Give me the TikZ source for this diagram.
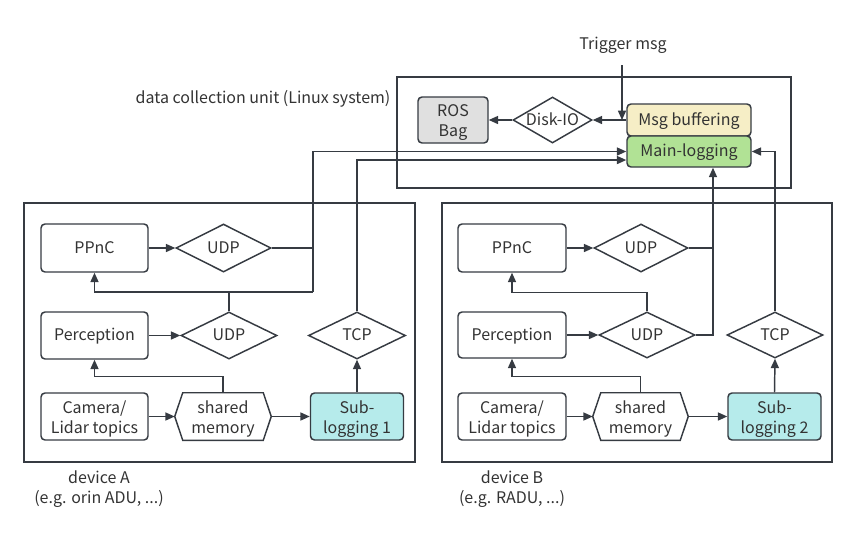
\documentclass[tikz,border=0pt]{standalone}
\usepackage{fontspec}
\setmainfont{Noto Sans CJK SC}
\usetikzlibrary{shapes.geometric,arrows.meta,calc}
\definecolor{ink}{HTML}{363B42}
\definecolor{txt}{HTML}{333333}
\definecolor{rosgray}{HTML}{E0E0E0}
\definecolor{bufyellow}{HTML}{F6EEC6}
\definecolor{maingreen}{HTML}{B1E295}
\definecolor{subcyan}{HTML}{B6EBEB}
\newcommand\hexpath[1]{\draw[line] (#1.west) -- ([xshift=6pt]#1.north west) -- ([xshift=-6pt]#1.north east) -- (#1.east) -- ([xshift=-6pt]#1.south east) -- ([xshift=6pt]#1.south west) -- cycle;}
\begin{document}
\begin{tikzpicture}[x=0.75pt,y=-0.75pt,
  every node/.style={text=txt,font=\fontsize{12}{15}\selectfont},
  line/.style={draw=ink,line width=1.1pt},
  frame/.style={draw=ink,line width=1.1pt,inner sep=0pt},
  one/.style={text height=8pt,text depth=0pt},
  two/.style={text height=25pt,text depth=0pt},
  rbox/.style={draw=ink,line width=1.1pt,rounded corners=3pt,inner sep=0pt,align=center},
  dia/.style={diamond,draw=ink,line width=1.1pt,inner sep=0pt,aspect=2,one},
  hexa/.style={inner sep=0pt,align=center,two},
  arr/.style={draw=ink,line width=1.1pt,-{Triangle[length=7pt,width=6pt]}},
  lbl/.style={inner sep=0pt,align=center}]
\useasboundingbox (0,0) rectangle (858,533);

% frames
\node[frame,minimum width=295.5pt,minimum height=83.25pt] (dcu) at (594,132.5) {};
\node[frame,minimum width=293.25pt,minimum height=194.25pt] (devA) at (219.5,332.5) {};
\node[frame,minimum width=292.5pt,minimum height=194.25pt] (devB) at (637,332.5) {};

% labels
\node[lbl] (trigLbl) at (623,45) {Trigger msg};
\node[lbl] (dcuLbl) at (263,99) {data collection unit (Linux system)};
\node[lbl] (devALbl) at (99,489) {device A\\(e.g. orin ADU, ...)};
\node[lbl] (devBLbl) at (512,489) {device B\\(e.g. RADU, ...)};

% data collection unit
\node[rbox,two,fill=rosgray,minimum width=52.5pt,minimum height=34.5pt] (ros) at (453,120) {ROS\\Bag};
\node[dia,minimum width=59.25pt,minimum height=34.5pt] (disk) at (552.5,120) {Disk-IO};
\node[rbox,one,fill=bufyellow,minimum width=93pt,minimum height=24pt] (msgbuf) at (689,120) {Msg buffering};
\node[rbox,one,fill=maingreen,minimum width=93pt,minimum height=23.25pt] (mainlog) at (689,151.5) {Main-logging};
\coordinate (trig) at (622,65);

% device A
\node[rbox,one,minimum width=80.25pt,minimum height=36pt] (ppncA) at (94.5,248) {PPnC};
\node[dia,minimum width=71.25pt,minimum height=36pt] (udpA1) at (223.5,248) {UDP};
\node[rbox,one,minimum width=80.25pt,minimum height=35.25pt] (percA) at (94.5,335.5) {Perception};
\node[dia,minimum width=72pt,minimum height=35.25pt] (udpA2) at (229,335.5) {UDP};
\node[dia,minimum width=72.75pt,minimum height=35.25pt] (tcpA) at (357,335.5) {TCP};
\node[rbox,two,minimum width=80.25pt,minimum height=35.25pt] (camA) at (94.5,416.5) {Camera/\\Lidar topics};
\node[hexa,minimum width=72pt,minimum height=35.25pt] (shmA) at (223,416.5) {shared\\memory};
\hexpath{shmA}
\node[rbox,two,fill=subcyan,minimum width=69.75pt,minimum height=35.25pt] (subA) at (357,416.5) {Sub-\\logging 1};
\coordinate (jA) at (313,292);

% device B
\node[rbox,one,minimum width=81pt,minimum height=36pt] (ppncB) at (512,248) {PPnC};
\node[dia,minimum width=70.5pt,minimum height=36pt] (udpB1) at (641,248) {UDP};
\node[rbox,one,minimum width=81pt,minimum height=34.5pt] (percB) at (512,335) {Perception};
\node[dia,minimum width=72pt,minimum height=34.5pt] (udpB2) at (647,335) {UDP};
\node[dia,minimum width=72pt,minimum height=34.5pt] (tcpB) at (775,335) {TCP};
\node[rbox,two,minimum width=81pt,minimum height=35.25pt] (camB) at (512,416.5) {Camera/\\Lidar topics};
\node[hexa,minimum width=71.25pt,minimum height=35.25pt] (shmB) at (640.5,416.5) {shared\\memory};
\hexpath{shmB}
\node[rbox,two,fill=subcyan,minimum width=69.75pt,minimum height=35.25pt] (subB) at (774.5,416.5) {Sub-\\logging 2};
\coordinate (jB) at (713,248);

% connectors: data collection unit
\draw[arr] (trig) -- (trig |- msgbuf.west);
\draw[arr] (msgbuf.west) -- (disk.east);
\draw[arr] (disk.west) -- (ros.east);

% connectors: device A
\draw[arr] (ppncA.east) -- (udpA1.west);
\draw[arr] (percA.east) -- (udpA2.west);
\draw[arr] (camA.east) -- (shmA.west);
\draw[arr] (shmA.east) -- (subA.west);
\draw[arr] (subA.north) -- (tcpA.south);
\draw[arr] (shmA.north) -- ++(0,-16) -| (percA.south);
\draw[arr] (udpA2.north) |- (ppncA.south |- jA) -- (ppncA.south);
\draw[line] (udpA2.north) |- (jA);
\draw[line] (udpA1.east) -- (udpA1.east -| jA);
\draw[arr] (jA) |- (mainlog.west);
\draw[arr] (tcpA.north) |- ([yshift=-6.4pt]mainlog.west);

% connectors: device B
\draw[arr] (ppncB.east) -- (udpB1.west);
\draw[arr] (percB.east) -- (udpB2.west);
\draw[arr] (camB.east) -- (shmB.west);
\draw[arr] (shmB.east) -- (subB.west);
\draw[arr] (subB.north) -- (tcpB.south);
\draw[arr] (shmB.north) -- ++(0,-16) -| (percB.south);
\draw[arr] (udpB2.north) -- ++(0,-19) -| (ppncB.south);
\draw[line] (udpB1.east) -- (jB);
\draw[arr] (udpB2.east) -| ([xshift=18pt]mainlog.south);
\draw[arr] (tcpB.north) |- (mainlog.east);
\end{tikzpicture}
\end{document}
